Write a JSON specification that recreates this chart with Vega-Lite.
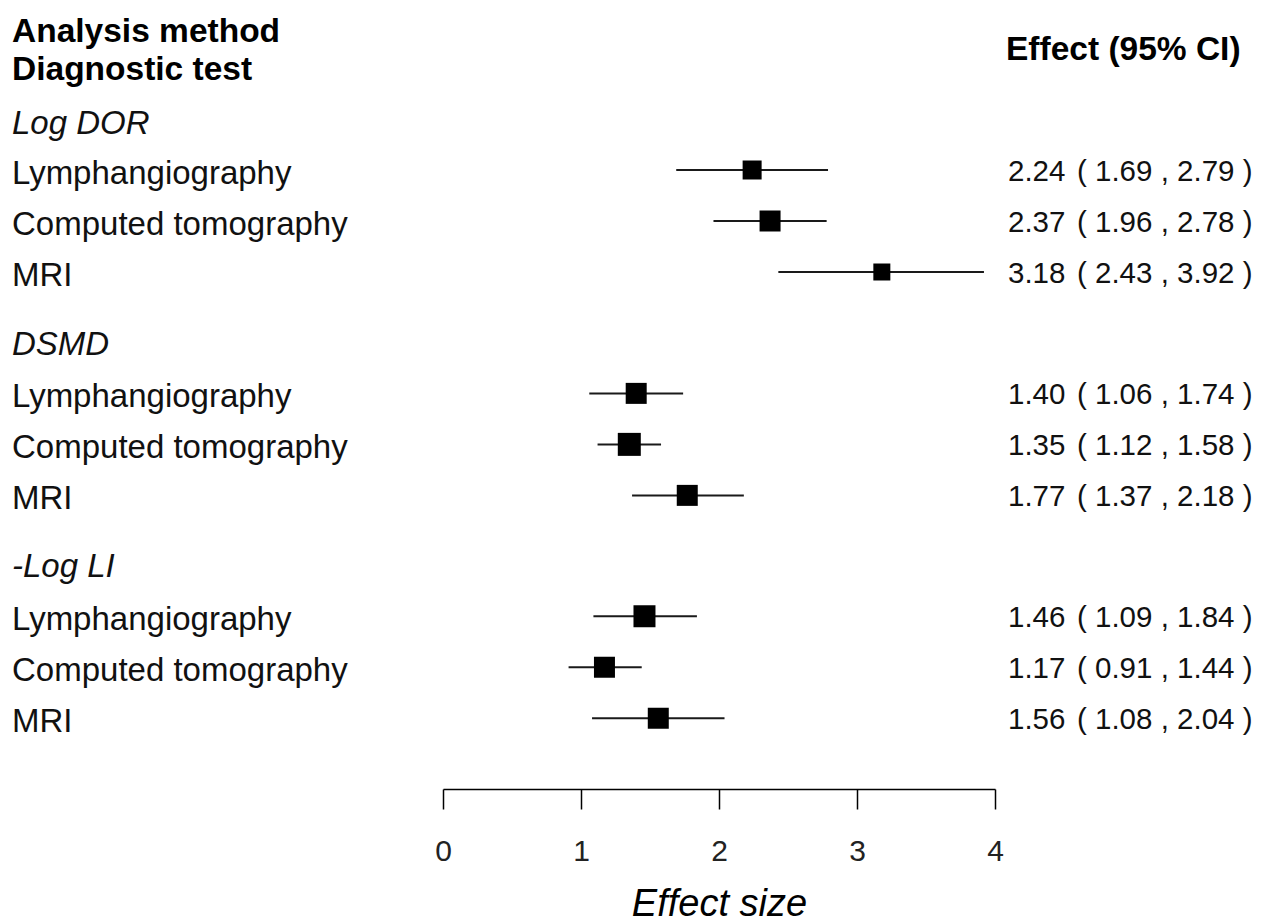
{
  "$schema": "https://vega.github.io/schema/vega-lite/v6.json",
  "background": "white",
  "padding": {"left": 12, "top": 0, "right": 0, "bottom": 0},
  "spacing": 13,
  "bounds": "flush",
  "config": {"view": {"stroke": null}, "font": "Liberation Sans"},
  "data": {
    "values": [
      {"kind": "header", "label": "Analysis method", "row": 0.255},
      {"kind": "header", "label": "Diagnostic test", "row": 1.0},
      {"kind": "effhead", "label": "Effect (95% CI)", "row": 0.61},
      {"kind": "group", "label": "Log DOR", "row": 2.06},
      {"kind": "study", "label": "Lymphangiography", "row": 3, "est": 2.24, "lower": 1.69, "upper": 2.79, "estText": "2.24", "ciText": "( 1.69 , 2.79 )", "weight": 3.61},
      {"kind": "study", "label": "Computed tomography", "row": 4, "est": 2.37, "lower": 1.96, "upper": 2.78, "estText": "2.37", "ciText": "( 1.96 , 2.78 )", "weight": 4.41},
      {"kind": "study", "label": "MRI", "row": 5, "est": 3.18, "lower": 2.43, "upper": 3.92, "estText": "3.18", "ciText": "( 2.43 , 3.92 )", "weight": 2.89},
      {"kind": "group", "label": "DSMD", "row": 6.39},
      {"kind": "study", "label": "Lymphangiography", "row": 7.38, "est": 1.40, "lower": 1.06, "upper": 1.74, "estText": "1.40", "ciText": "( 1.06 , 1.74 )", "weight": 4.41},
      {"kind": "study", "label": "Computed tomography", "row": 8.38, "est": 1.35, "lower": 1.12, "upper": 1.58, "estText": "1.35", "ciText": "( 1.12 , 1.58 )", "weight": 5.29},
      {"kind": "study", "label": "MRI", "row": 9.38, "est": 1.77, "lower": 1.37, "upper": 2.18, "estText": "1.77", "ciText": "( 1.37 , 2.18 )", "weight": 4.41},
      {"kind": "group", "label": "-Log LI", "row": 10.75},
      {"kind": "study", "label": "Lymphangiography", "row": 11.75, "est": 1.46, "lower": 1.09, "upper": 1.84, "estText": "1.46", "ciText": "( 1.09 , 1.84 )", "weight": 4.84},
      {"kind": "study", "label": "Computed tomography", "row": 12.75, "est": 1.17, "lower": 0.91, "upper": 1.44, "estText": "1.17", "ciText": "( 0.91 , 1.44 )", "weight": 4.41},
      {"kind": "study", "label": "MRI", "row": 13.75, "est": 1.56, "lower": 1.08, "upper": 2.04, "estText": "1.56", "ciText": "( 1.08 , 2.04 )", "weight": 4.41}
    ]
  },
  "hconcat": [
    {
      "width": 418,
      "height": 789,
      "encoding": {
        "x": {"datum": 0, "type": "quantitative", "scale": {"domain": [0, 1]}, "axis": null},
        "y": {"field": "row", "type": "quantitative", "scale": {"domain": [-0.3333, 15.1373], "reverse": true, "nice": false, "zero": false}, "axis": null},
        "text": {"field": "label"}
      },
      "layer": [
        {
          "transform": [{"filter": "datum.kind === 'header'"}],
          "mark": {"type": "text", "align": "left", "baseline": "middle", "fontSize": 33.5, "fontWeight": "bold", "color": "#000", "dy": 2}
        },
        {
          "transform": [{"filter": "datum.kind === 'group'"}],
          "mark": {"type": "text", "align": "left", "baseline": "middle", "fontSize": 33, "fontStyle": "italic", "color": "#111", "dy": 2}
        },
        {
          "transform": [{"filter": "datum.kind === 'study'"}],
          "mark": {"type": "text", "align": "left", "baseline": "middle", "fontSize": 33, "color": "#111", "dy": 4}
        }
      ]
    },
    {
      "width": 552,
      "height": 789,
      "transform": [{"filter": "datum.kind === 'study'"}],
      "encoding": {
        "y": {"field": "row", "type": "quantitative", "scale": {"domain": [-0.3333, 15.1373], "reverse": true, "nice": false, "zero": false}, "axis": null}
      },
      "layer": [
        {
          "mark": {"type": "rule", "color": "#1a1a1a", "strokeWidth": 2},
          "encoding": {
            "x": {
              "field": "lower", "type": "quantitative",
              "scale": {"domain": [0, 4], "nice": false, "zero": false},
              "axis": {
                "title": "Effect size",
                "values": [0, 1, 2, 3, 4],
                "format": "d",
                "labelFlush": false,
                "grid": false,
                "domainColor": "#000", "domainWidth": 1.5,
                "tickColor": "#000", "tickWidth": 1.5, "tickSize": 20,
                "labelFont": "Liberation Sans", "labelFontSize": 30, "labelColor": "#222", "labelPadding": 27,
                "titleFont": "Liberation Sans", "titleFontSize": 38, "titleFontStyle": "italic", "titleFontWeight": "normal", "titleColor": "#000", "titlePadding": 19
              }
            },
            "x2": {"field": "upper"}
          }
        },
        {
          "mark": {"type": "point", "shape": "square", "filled": true, "color": "#000", "opacity": 1},
          "encoding": {
            "x": {"field": "est", "type": "quantitative"},
            "size": {"field": "weight", "type": "quantitative", "scale": {"domain": [0, 5.29], "range": [0, 529]}, "legend": null}
          }
        }
      ]
    },
    {
      "width": 271,
      "height": 789,
      "encoding": {
        "x": {"datum": 0, "type": "quantitative", "scale": {"domain": [0, 1]}, "axis": null},
        "y": {"field": "row", "type": "quantitative", "scale": {"domain": [-0.3333, 15.1373], "reverse": true, "nice": false, "zero": false}, "axis": null}
      },
      "layer": [
        {
          "transform": [{"filter": "datum.kind === 'effhead'"}],
          "mark": {"type": "text", "align": "left", "baseline": "middle", "fontSize": 33.5, "fontWeight": "bold", "color": "#000", "dy": 2, "dx": -2},
          "encoding": {"text": {"field": "label"}}
        },
        {
          "transform": [{"filter": "datum.kind === 'study'"}],
          "mark": {"type": "text", "align": "left", "baseline": "middle", "fontSize": 29.5, "color": "#111", "dy": 2},
          "encoding": {"text": {"field": "estText"}}
        },
        {
          "transform": [{"filter": "datum.kind === 'study'"}],
          "mark": {"type": "text", "align": "left", "baseline": "middle", "fontSize": 29.5, "color": "#111", "dy": 2, "dx": 69},
          "encoding": {"text": {"field": "ciText"}}
        }
      ]
    }
  ]
}
